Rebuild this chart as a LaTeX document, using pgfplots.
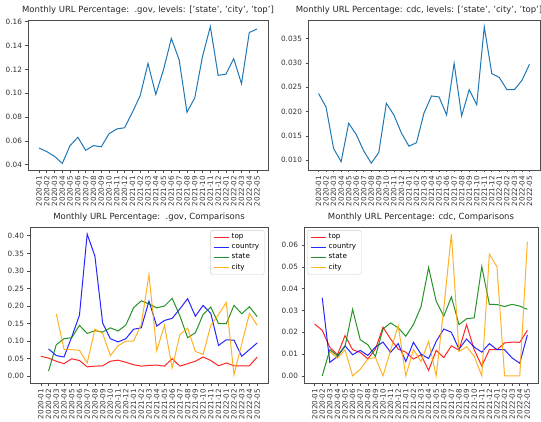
\documentclass[border=0pt]{standalone}
\usepackage{fontspec}
\setmainfont{DejaVu Sans}
\usepackage{pgfplots}
\usepackage{pgfplotstable}
\pgfplotsset{compat=1.18}

\definecolor{mplblue}{HTML}{1F77B4}
\definecolor{mplgreen}{HTML}{008000}
\definecolor{mplorange}{HTML}{FFA500}

% monthly share of all URLs
\pgfplotstableread{
x y
0 0.054
1 0.051
2 0.047
3 0.041
4 0.056
5 0.063
6 0.052
7 0.056
8 0.055
9 0.066
10 0.070
11 0.071
12 0.084
13 0.098
14 0.125
15 0.099
16 0.120
17 0.146
18 0.128
19 0.084
20 0.096
21 0.131
22 0.156
23 0.115
24 0.116
25 0.129
26 0.108
27 0.151
28 0.154
}\govall

\pgfplotstableread{
x y
0 0.0237
1 0.0209
2 0.0124
3 0.0097
4 0.0176
5 0.0153
6 0.0119
7 0.0094
8 0.0116
9 0.0217
10 0.0193
11 0.0156
12 0.0129
13 0.0136
14 0.0197
15 0.0232
16 0.0230
17 0.0193
18 0.0299
19 0.0191
20 0.0245
21 0.0214
22 0.0374
23 0.0278
24 0.0270
25 0.0245
26 0.0245
27 0.0264
28 0.0297
}\cdcall

\pgfplotstableread{
x top country state city
0 0.057 nan nan nan
1 0.052 0.078 0.015 nan
2 0.043 0.059 0.090 0.178
3 0.036 0.055 0.107 0.077
4 0.050 0.112 0.110 0.076
5 0.045 0.174 0.145 0.074
6 0.027 0.405 0.122 0.038
7 0.029 0.342 0.130 0.134
8 0.030 0.152 0.126 0.122
9 0.043 0.107 0.138 0.059
10 0.046 0.098 0.129 0.087
11 0.040 0.107 0.146 0.100
12 0.033 0.134 0.195 0.100
13 0.029 0.138 0.215 0.148
14 0.031 0.214 0.206 0.290
15 0.032 0.143 0.195 0.073
16 0.029 0.159 0.200 0.145
17 0.050 0.165 0.222 0.024
18 0.029 0.192 0.172 0.119
19 0.036 0.221 0.110 0.137
20 0.043 0.171 0.124 0.071
21 0.055 0.202 0.176 0.062
22 0.045 0.179 0.197 0.145
23 0.030 0.088 0.150 0.176
24 0.038 0.104 0.150 0.210
25 0.030 0.103 0.202 0.004
26 0.030 0.057 0.178 0.092
27 0.030 0.076 0.198 0.179
28 0.055 0.095 0.170 0.145
}\govcmp

\pgfplotstableread{
x top country state city
0 0.0238 nan nan nan
1 0.0209 0.0358 0.0000 nan
2 0.0131 0.0062 0.0120 0.0112
3 0.0097 0.0089 0.0092 0.0080
4 0.0185 0.0138 0.0135 0.0120
5 0.0120 0.0097 0.0305 0.0000
6 0.0108 0.0117 0.0166 0.0030
7 0.0078 0.0094 0.0143 0.0077
8 0.0123 0.0132 0.0089 0.0085
9 0.0223 0.0155 0.0215 0.0000
10 0.0169 0.0108 0.0243 0.0118
11 0.0123 0.0148 0.0220 0.0230
12 0.0109 0.0066 0.0182 0.0000
13 0.0077 0.0154 0.0235 0.0122
14 0.0097 0.0100 0.0317 0.0066
15 0.0025 0.0080 0.0497 0.0158
16 0.0117 0.0158 0.0342 0.0000
17 0.0084 0.0215 0.0274 0.0310
18 0.0138 0.0200 0.0362 0.0650
19 0.0118 0.0123 0.0235 0.0112
20 0.0235 0.0169 0.0262 0.0134
21 0.0120 0.0132 0.0266 0.0090
22 0.0045 0.0109 0.0501 0.0000
23 0.0120 0.0148 0.0328 0.0558
24 0.0120 0.0120 0.0327 0.0500
25 0.0151 0.0120 0.0318 0.0000
26 0.0155 0.0082 0.0328 0.0000
27 0.0154 0.0058 0.0320 0.0000
28 0.0209 0.0188 0.0305 0.0615
}\cdccmp

\pgfplotsset{
  mpl/.style={
    scale only axis,
    anchor=south west,
    font=\fontsize{7.3}{8.5}\selectfont,
    axis line style={black!70, line width=0.6pt},
    tick style={black!70, line width=0.6pt},
    tick align=outside,
    major tick length=2.5pt,
    xtick pos=left, ytick pos=left,
    xmin=-1.4, xmax=29.4,
    xtick={0,...,28},
    xticklabels={2020-01,2020-02,2020-03,2020-04,2020-05,2020-06,2020-07,2020-08,2020-09,2020-10,2020-11,2020-12,2021-01,2021-02,2021-03,2021-04,2021-05,2021-06,2021-07,2021-08,2021-09,2021-10,2021-11,2021-12,2022-01,2022-02,2022-03,2022-04,2022-05},
    xticklabel style={rotate=90, anchor=east, font=\fontsize{7.2}{8}\selectfont, text=black!80},
    yticklabel style={text=black!80},
    scaled y ticks=false,
    title style={font=\fontsize{8.5}{10}\selectfont, text=black!85, yshift=-4pt},
    unbounded coords=jump,
    legend style={draw=black!20, rounded corners=1.5pt, font=\fontsize{7.2}{8.5}\selectfont,
      inner xsep=3pt, inner ysep=1.5pt, cells={anchor=west}, row sep=-0.5pt},
    legend image code/.code={\draw[#1] (0pt,0pt) -- (15pt,0pt);},
  },
  ylab2/.style={yticklabel={\pgfmathprintnumber[fixed,fixed zerofill,precision=2,assume math mode=true]{\tick}}},
  ylab3/.style={yticklabel={\pgfmathprintnumber[fixed,fixed zerofill,precision=3,assume math mode=true]{\tick}}},
}

\begin{document}
\begin{tikzpicture}
\path[use as bounding box] (0,0) rectangle (541pt,421pt);

\begin{axis}[mpl, ylab2, at={(28pt,251pt)}, width=240pt, height=150pt,
  title={Monthly URL Percentage:\ \ .gov, levels: ['state', 'city', 'top']},
  ymin=0.0355, ymax=0.1615, ytick={0.04,0.06,...,0.161}]
  \addplot[mplblue, line width=1pt] table[x=x, y=y] {\govall};
\end{axis}

\begin{axis}[mpl, ylab3, at={(308pt,251pt)}, width=232pt, height=150pt,
  title={Monthly URL Percentage: cdc, levels: ['state', 'city', 'top']},
  title style={xshift=-5pt},
  ymin=0.0080, ymax=0.0388, ytick={0.010,0.015,...,0.0351}]
  \addplot[mplblue, line width=1pt] table[x=x, y=y] {\cdcall};
\end{axis}

\begin{axis}[mpl, ylab2, at={(30pt,38pt)}, width=238pt, height=156pt,
  title={Monthly URL Percentage:\ \ .gov, Comparisons},
  ymin=-0.019, ymax=0.425, ytick={0,0.05,...,0.401},
  legend style={at={(0.985,0.98)}, anchor=north east}]
  \addplot[red, line width=1pt, opacity=0.85] table[x=x, y=top] {\govcmp};
  \addplot[blue, line width=1pt, opacity=0.85] table[x=x, y=country] {\govcmp};
  \addplot[mplgreen, line width=1pt, opacity=0.85] table[x=x, y=state] {\govcmp};
  \addplot[mplorange, line width=1pt, opacity=0.85] table[x=x, y=city] {\govcmp};
  \legend{top,country,state,city}
\end{axis}

\begin{axis}[mpl, ylab2, at={(304pt,38pt)}, width=234pt, height=156pt,
  title={Monthly URL Percentage: cdc, Comparisons},
  ymin=-0.00325, ymax=0.06825, ytick={0,0.01,...,0.061},
  legend style={at={(0.015,0.98)}, anchor=north west}]
  \addplot[red, line width=1pt, opacity=0.85] table[x=x, y=top] {\cdccmp};
  \addplot[blue, line width=1pt, opacity=0.85] table[x=x, y=country] {\cdccmp};
  \addplot[mplgreen, line width=1pt, opacity=0.85] table[x=x, y=state] {\cdccmp};
  \addplot[mplorange, line width=1pt, opacity=0.85] table[x=x, y=city] {\cdccmp};
  \legend{top,country,state,city}
\end{axis}
\end{tikzpicture}
\end{document}
